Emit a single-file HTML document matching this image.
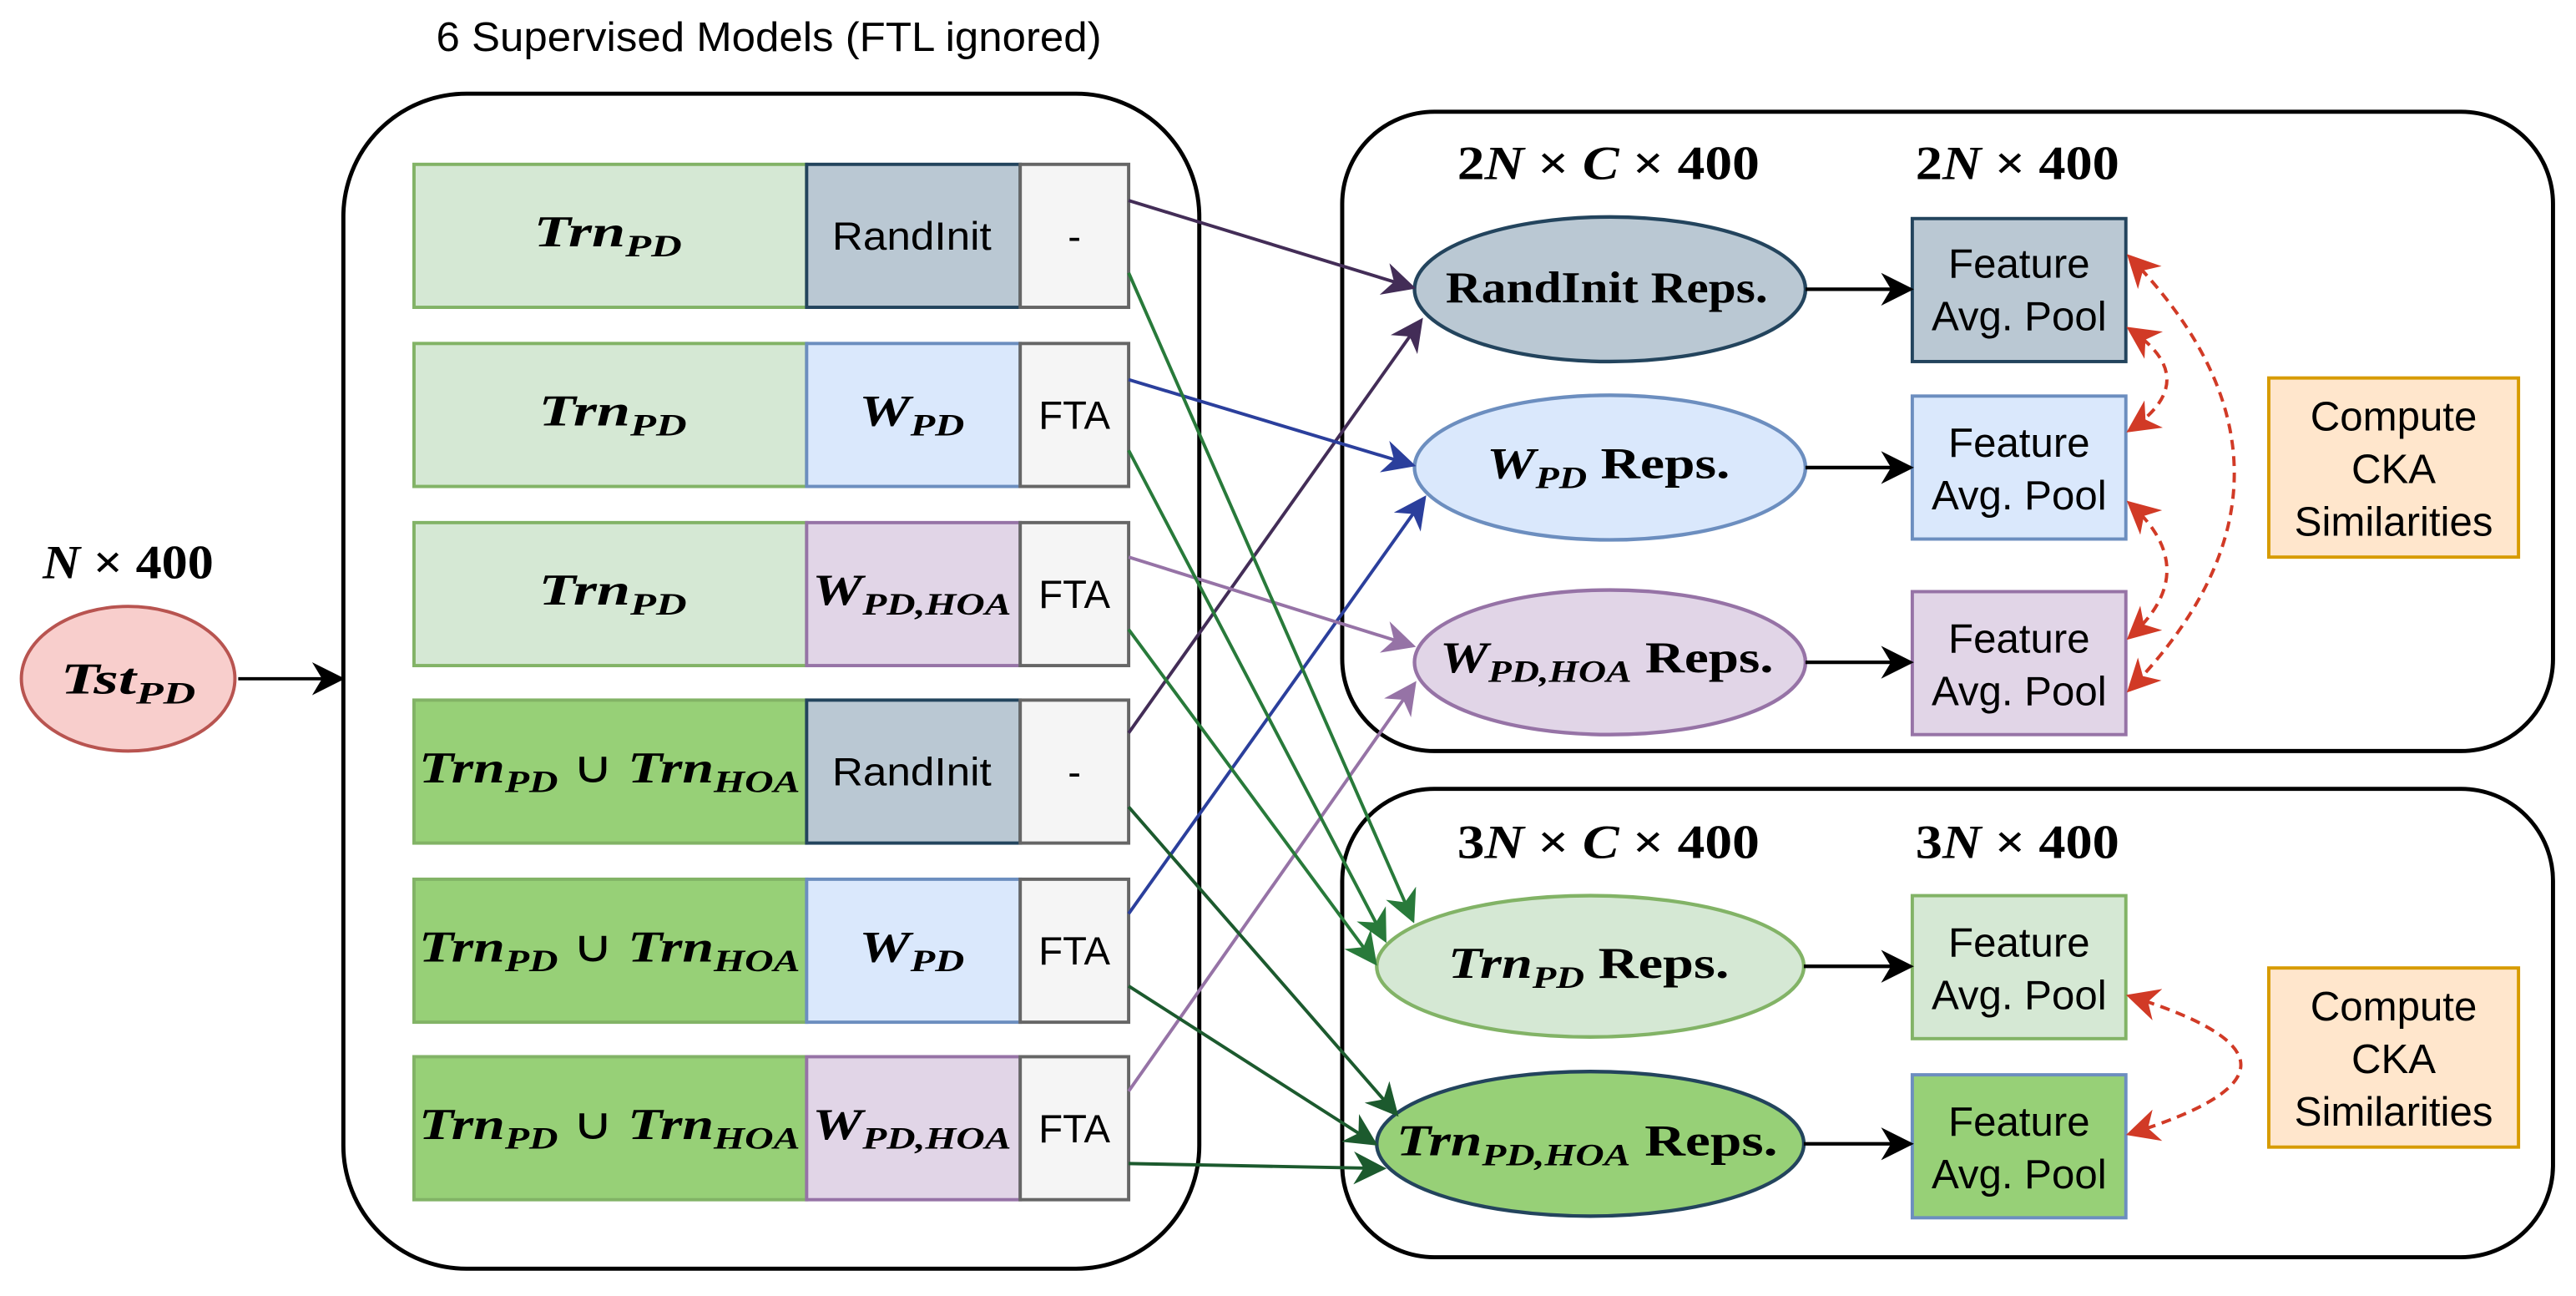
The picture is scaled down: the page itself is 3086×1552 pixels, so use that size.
<!DOCTYPE html>
<html><head><meta charset="utf-8"><style>html,body{margin:0;padding:0;background:#fff}svg{display:block}</style></head>
<body>
<svg xmlns="http://www.w3.org/2000/svg" width="3086" height="1552" viewBox="0 0 1568 788.6" preserveAspectRatio="none">
<defs>
<marker id="mDp" viewBox="0 0 10 10" refX="9" refY="5" markerWidth="20" markerHeight="20" orient="auto" markerUnits="userSpaceOnUse"><path d="M0,0 L10,5 L0,10 L3,5 z" fill="#432d57"/></marker>
<marker id="mBl" viewBox="0 0 10 10" refX="9" refY="5" markerWidth="20" markerHeight="20" orient="auto" markerUnits="userSpaceOnUse"><path d="M0,0 L10,5 L0,10 L3,5 z" fill="#2b3f9c"/></marker>
<marker id="mPu" viewBox="0 0 10 10" refX="9" refY="5" markerWidth="20" markerHeight="20" orient="auto" markerUnits="userSpaceOnUse"><path d="M0,0 L10,5 L0,10 L3,5 z" fill="#9673a6"/></marker>
<marker id="mG1" viewBox="0 0 10 10" refX="9" refY="5" markerWidth="20" markerHeight="20" orient="auto" markerUnits="userSpaceOnUse"><path d="M0,0 L10,5 L0,10 L3,5 z" fill="#287a3a"/></marker>
<marker id="mG2" viewBox="0 0 10 10" refX="9" refY="5" markerWidth="20" markerHeight="20" orient="auto" markerUnits="userSpaceOnUse"><path d="M0,0 L10,5 L0,10 L3,5 z" fill="#1c5a2e"/></marker>
<marker id="mBk" viewBox="0 0 10 10" refX="9" refY="5" markerWidth="20" markerHeight="20" orient="auto" markerUnits="userSpaceOnUse"><path d="M0,0 L10,5 L0,10 L3,5 z" fill="#000"/></marker>
<marker id="mRd" viewBox="0 0 10 10" refX="9" refY="5" markerWidth="20" markerHeight="20" orient="auto-start-reverse" markerUnits="userSpaceOnUse"><path d="M0,0 L10,5 L0,10 L3,5 z" fill="#d13a26"/></marker>
</defs>

<text x="468" y="31" text-anchor="middle" font-family="Liberation Sans" font-size="25" textLength="405" lengthAdjust="spacingAndGlyphs">6 Supervised Models (FTL ignored)</text>

<rect x="209" y="57" width="521" height="715" rx="75" ry="75" fill="none" stroke="#000" stroke-width="2.5"/>
<rect x="817" y="68" width="737" height="389" rx="56" ry="56" fill="none" stroke="#000" stroke-width="2.5"/>
<rect x="817" y="480" width="737" height="285" rx="56" ry="56" fill="none" stroke="#000" stroke-width="2.5"/>

<text x="78" y="352" text-anchor="middle" font-family="Liberation Serif" font-size="29" font-weight="bold" textLength="104" lengthAdjust="spacingAndGlyphs"><tspan font-style="italic">N</tspan> × 400</text>
<ellipse cx="78" cy="413" rx="65" ry="44" fill="#f8cecc" stroke="#b85450" stroke-width="2"/>
<text x="78" y="422" text-anchor="middle" font-family="Liberation Serif" font-size="27" font-style="italic" font-weight="bold" textLength="82" lengthAdjust="spacingAndGlyphs">Tst<tspan font-size="19" dy="6">PD</tspan></text>
<line x1="145" y1="413" x2="208" y2="413" stroke="#000" stroke-width="2" marker-end="url(#mBk)"/>

<g stroke-width="2" font-family="Liberation Sans" font-size="24">
<rect x="252" y="100" width="239" height="87" fill="#d5e8d4" stroke="#82b366"/>
<rect x="491" y="100" width="130" height="87" fill="#bac8d3" stroke="#23445d"/>
<rect x="621" y="100" width="66" height="87" fill="#f5f5f5" stroke="#666"/>
<text x="555" y="152" text-anchor="middle" stroke="none" textLength="97" lengthAdjust="spacingAndGlyphs">RandInit</text>
<text x="654" y="152" text-anchor="middle" stroke="none">-</text>
<rect x="252" y="209" width="239" height="87" fill="#d5e8d4" stroke="#82b366"/>
<rect x="491" y="209" width="130" height="87" fill="#dae8fc" stroke="#6c8ebf"/>
<rect x="621" y="209" width="66" height="87" fill="#f5f5f5" stroke="#666"/>
<text x="654" y="261" text-anchor="middle" stroke="none">FTA</text>
<rect x="252" y="318" width="239" height="87" fill="#d5e8d4" stroke="#82b366"/>
<rect x="491" y="318" width="130" height="87" fill="#e1d5e7" stroke="#9673a6"/>
<rect x="621" y="318" width="66" height="87" fill="#f5f5f5" stroke="#666"/>
<text x="654" y="370" text-anchor="middle" stroke="none">FTA</text>
<rect x="252" y="426" width="239" height="87" fill="#97d077" stroke="#82b366"/>
<rect x="491" y="426" width="130" height="87" fill="#bac8d3" stroke="#23445d"/>
<rect x="621" y="426" width="66" height="87" fill="#f5f5f5" stroke="#666"/>
<text x="555" y="478" text-anchor="middle" stroke="none" textLength="97" lengthAdjust="spacingAndGlyphs">RandInit</text>
<text x="654" y="478" text-anchor="middle" stroke="none">-</text>
<rect x="252" y="535" width="239" height="87" fill="#97d077" stroke="#82b366"/>
<rect x="491" y="535" width="130" height="87" fill="#dae8fc" stroke="#6c8ebf"/>
<rect x="621" y="535" width="66" height="87" fill="#f5f5f5" stroke="#666"/>
<text x="654" y="587" text-anchor="middle" stroke="none">FTA</text>
<rect x="252" y="643" width="239" height="87" fill="#97d077" stroke="#82b366"/>
<rect x="491" y="643" width="130" height="87" fill="#e1d5e7" stroke="#9673a6"/>
<rect x="621" y="643" width="66" height="87" fill="#f5f5f5" stroke="#666"/>
<text x="654" y="695" text-anchor="middle" stroke="none">FTA</text>
</g>

<g font-family="Liberation Serif" font-style="italic" font-weight="bold" font-size="27" text-anchor="middle">
<text x="370" y="150" textLength="90" lengthAdjust="spacingAndGlyphs">Trn<tspan font-size="19" dy="6">PD</tspan></text>
<text x="373" y="259" textLength="90" lengthAdjust="spacingAndGlyphs">Trn<tspan font-size="19" dy="6">PD</tspan></text>
<text x="373" y="368" textLength="90" lengthAdjust="spacingAndGlyphs">Trn<tspan font-size="19" dy="6">PD</tspan></text>
<text x="371" y="476" textLength="232" lengthAdjust="spacingAndGlyphs">Trn<tspan font-size="19" dy="6">PD</tspan><tspan font-style="normal" font-weight="normal" dy="-6"> ∪ </tspan>Trn<tspan font-size="19" dy="6">HOA</tspan></text>
<text x="371" y="585" textLength="232" lengthAdjust="spacingAndGlyphs">Trn<tspan font-size="19" dy="6">PD</tspan><tspan font-style="normal" font-weight="normal" dy="-6"> ∪ </tspan>Trn<tspan font-size="19" dy="6">HOA</tspan></text>
<text x="371" y="693" textLength="232" lengthAdjust="spacingAndGlyphs">Trn<tspan font-size="19" dy="6">PD</tspan><tspan font-style="normal" font-weight="normal" dy="-6"> ∪ </tspan>Trn<tspan font-size="19" dy="6">HOA</tspan></text>
<text x="555" y="259" textLength="64" lengthAdjust="spacingAndGlyphs">W<tspan font-size="19" dy="6">PD</tspan></text>
<text x="555" y="585" textLength="64" lengthAdjust="spacingAndGlyphs">W<tspan font-size="19" dy="6">PD</tspan></text>
<text x="555" y="368" textLength="121" lengthAdjust="spacingAndGlyphs">W<tspan font-size="19" dy="6">PD,HOA</tspan></text>
<text x="555" y="693" textLength="121" lengthAdjust="spacingAndGlyphs">W<tspan font-size="19" dy="6">PD,HOA</tspan></text>
</g>

<g font-family="Liberation Serif" font-weight="bold" font-size="29" text-anchor="middle">
<text x="979" y="109" textLength="184" lengthAdjust="spacingAndGlyphs">2<tspan font-style="italic">N</tspan> × <tspan font-style="italic">C</tspan> × 400</text>
<text x="1228" y="109" textLength="124" lengthAdjust="spacingAndGlyphs">2<tspan font-style="italic">N</tspan> × 400</text>
<text x="979" y="522" textLength="184" lengthAdjust="spacingAndGlyphs">3<tspan font-style="italic">N</tspan> × <tspan font-style="italic">C</tspan> × 400</text>
<text x="1228" y="522" textLength="124" lengthAdjust="spacingAndGlyphs">3<tspan font-style="italic">N</tspan> × 400</text>
</g>

<g stroke-width="2.2">
<ellipse cx="980" cy="176" rx="119" ry="44" fill="#bac8d3" stroke="#23445d"/>
<ellipse cx="980" cy="284.5" rx="119" ry="44" fill="#dae8fc" stroke="#6c8ebf"/>
<ellipse cx="980" cy="403" rx="119" ry="44" fill="#e1d5e7" stroke="#9673a6"/>
<ellipse cx="968" cy="588" rx="130" ry="43" fill="#d5e8d4" stroke="#82b366"/>
<ellipse cx="968" cy="696" rx="130" ry="44" fill="#97d077" stroke="#23445d"/>
</g>
<g font-family="Liberation Serif" font-weight="bold" font-size="27" text-anchor="middle">
<text x="978" y="184" textLength="196" lengthAdjust="spacingAndGlyphs">RandInit Reps.</text>
<text x="979" y="291" textLength="148" lengthAdjust="spacingAndGlyphs"><tspan font-style="italic">W</tspan><tspan font-style="italic" font-size="19" dy="6">PD</tspan><tspan dy="-6"> Reps.</tspan></text>
<text x="978" y="409" textLength="203" lengthAdjust="spacingAndGlyphs"><tspan font-style="italic">W</tspan><tspan font-style="italic" font-size="19" dy="6">PD,HOA</tspan><tspan dy="-6"> Reps.</tspan></text>
<text x="967" y="595" textLength="171" lengthAdjust="spacingAndGlyphs"><tspan font-style="italic">Trn</tspan><tspan font-style="italic" font-size="19" dy="6">PD</tspan><tspan dy="-6"> Reps.</tspan></text>
<text x="966" y="703" textLength="232" lengthAdjust="spacingAndGlyphs"><tspan font-style="italic">Trn</tspan><tspan font-style="italic" font-size="19" dy="6">PD,HOA</tspan><tspan dy="-6"> Reps.</tspan></text>
</g>

<g stroke-width="2">
<rect x="1164" y="133" width="130" height="87" fill="#bac8d3" stroke="#23445d"/>
<rect x="1164" y="241" width="130" height="87" fill="#dae8fc" stroke="#6c8ebf"/>
<rect x="1164" y="360" width="130" height="87" fill="#e1d5e7" stroke="#9673a6"/>
<rect x="1164" y="545" width="130" height="87" fill="#d5e8d4" stroke="#82b366"/>
<rect x="1164" y="654" width="130" height="87" fill="#97d077" stroke="#6c8ebf"/>
<rect x="1381" y="230" width="152" height="109" fill="#ffe6cc" stroke="#d79b00"/>
<rect x="1381" y="589" width="152" height="109" fill="#ffe6cc" stroke="#d79b00"/>
</g>
<g font-family="Liberation Sans" font-size="25" text-anchor="middle">
<text x="1229" y="169">Feature</text><text x="1229" y="201">Avg. Pool</text>
<text x="1229" y="278">Feature</text><text x="1229" y="310">Avg. Pool</text>
<text x="1229" y="397">Feature</text><text x="1229" y="429">Avg. Pool</text>
<text x="1229" y="582">Feature</text><text x="1229" y="614">Avg. Pool</text>
<text x="1229" y="691">Feature</text><text x="1229" y="723">Avg. Pool</text>
<text x="1457" y="262">Compute</text><text x="1457" y="294">CKA</text><text x="1457" y="326">Similarities</text>
<text x="1457" y="621">Compute</text><text x="1457" y="653">CKA</text><text x="1457" y="685">Similarities</text>
</g>

<g stroke="#000" stroke-width="2.2">
<line x1="1099" y1="176" x2="1163" y2="176" marker-end="url(#mBk)"/>
<line x1="1099" y1="284.5" x2="1163" y2="284.5" marker-end="url(#mBk)"/>
<line x1="1099" y1="403" x2="1163" y2="403" marker-end="url(#mBk)"/>
<line x1="1098" y1="588" x2="1163" y2="588" marker-end="url(#mBk)"/>
<line x1="1098" y1="696" x2="1163" y2="696" marker-end="url(#mBk)"/>
</g>

<g stroke="#d13a26" stroke-width="2" fill="none" stroke-dasharray="6,4">
<path d="M1296,156 Q1424,288 1296,420" marker-start="url(#mRd)" marker-end="url(#mRd)"/>
<path d="M1296,200 Q1342,231 1296,262" marker-start="url(#mRd)" marker-end="url(#mRd)"/>
<path d="M1296,306 Q1342,347 1296,388" marker-start="url(#mRd)" marker-end="url(#mRd)"/>
<path d="M1296,606 Q1432,648 1296,690" marker-start="url(#mRd)" marker-end="url(#mRd)"/>
</g>

<g stroke-width="2" fill="none">
<line x1="687" y1="122" x2="860" y2="175" stroke="#432d57" marker-end="url(#mDp)"/>
<line x1="687" y1="446" x2="865" y2="195" stroke="#432d57" marker-end="url(#mDp)"/>
<line x1="687" y1="231" x2="860" y2="283" stroke="#2b3f9c" marker-end="url(#mBl)"/>
<line x1="687" y1="556" x2="867" y2="303" stroke="#2b3f9c" marker-end="url(#mBl)"/>
<line x1="687" y1="339" x2="860" y2="393" stroke="#9673a6" marker-end="url(#mPu)"/>
<line x1="687" y1="664" x2="861" y2="416" stroke="#9673a6" marker-end="url(#mPu)"/>
<line x1="687" y1="166" x2="860" y2="560" stroke="#287a3a" marker-end="url(#mG1)"/>
<line x1="687" y1="274" x2="843" y2="572" stroke="#287a3a" marker-end="url(#mG1)"/>
<line x1="687" y1="383" x2="837" y2="586" stroke="#287a3a" marker-end="url(#mG1)"/>
<line x1="687" y1="491" x2="850" y2="678" stroke="#1c5a2e" marker-end="url(#mG2)"/>
<line x1="687" y1="600" x2="837" y2="696" stroke="#1c5a2e" marker-end="url(#mG2)"/>
<line x1="687" y1="708" x2="842" y2="711" stroke="#1c5a2e" marker-end="url(#mG2)"/>
</g>
</svg>
</body></html>
